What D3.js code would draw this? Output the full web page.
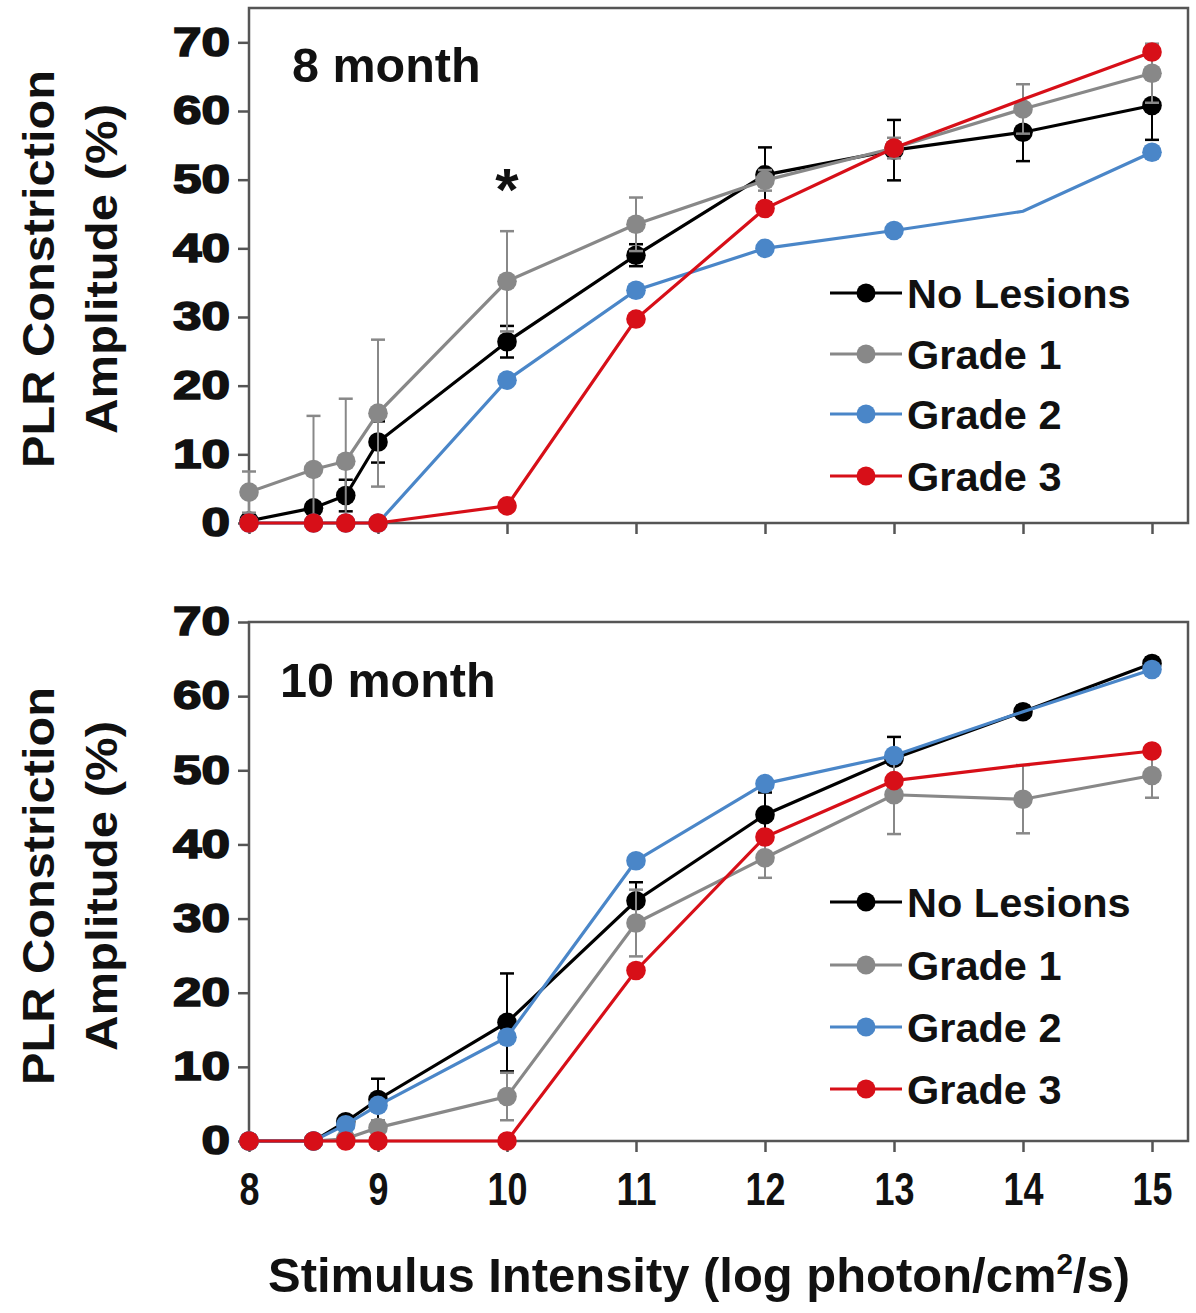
<!DOCTYPE html>
<html>
<head>
<meta charset="utf-8">
<script src="https://cdn.jsdelivr.net/npm/d3@7"></script>
<style>
  body { margin: 0; background: #fff; }
  .narrow { font-family: "Liberation Sans Narrow", "Arial Narrow", "Liberation Sans", sans-serif; font-stretch: condensed; font-weight: bold; }
  .bold { font-family: "Liberation Sans", Arial, sans-serif; font-weight: bold; }
</style>
</head>
<body>
<svg id="chart" width="1196" height="1313"></svg>
<script>
// x values (log photon/cm2/s)
const intensity = [8, 8.5, 8.75, 9, 10, 11, 12, 13, 14, 15];
const xTicks = [8, 9, 10, 11, 12, 13, 14, 15];
const yTicks = [0, 10, 20, 30, 40, 50, 60, 70];
const seriesNames = ["No Lesions", "Grade 1", "Grade 2", "Grade 3"];
const seriesColors = ["#000000", "#888888", "#4a86c8", "#d70f18"];
// points drawn on the line but without a marker
const unmarked = { "Grade 2": [14], "Grade 3": [14] };

// 8 month
const noLesions8 = [0.3, 2.2, 4.0, 11.8, 26.4, 39.0, 50.7, 54.3, 56.9, 60.8];
const noLesions8Err = [0.5, 0.8, 2.3, 3.0, 2.3, 1.6, 4.0, 4.4, 4.2, 5.0];
const grade1_8 = [4.5, 7.8, 9.0, 16.0, 35.2, 43.5, 49.9, 54.6, 60.3, 65.5];
const grade1_8Err = [3.0, 7.8, 9.1, 10.7, 7.3, 3.9, 1.5, 1.5, 3.6, 4.3];
const grade2_8 = [0, 0, 0, 0, 20.8, 33.9, 40.0, 42.6, 45.4, 54.0];
const grade3_8 = [0, 0, 0, 0, 2.5, 29.7, 45.8, 54.6, 61.7, 68.6];

// 10 month
const noLesions10 = [0, 0, 2.6, 5.6, 16.0, 32.4, 44.0, 51.6, 57.9, 64.4];
const noLesions10Err = [0, 0, 0.6, 2.8, 6.6, 2.5, 3.0, 2.9, 0.8, 0.8];
const grade1_10 = [0, 0, 0.3, 1.8, 6.0, 29.4, 38.2, 46.7, 46.1, 49.3];
const grade1_10Err = [0, 0, 0.5, 1.0, 3.2, 4.5, 2.7, 5.3, 4.6, 3.0];
const grade2_10 = [0, 0, 2.2, 4.8, 14.0, 37.8, 48.2, 52.0, 57.9, 63.6];
const grade3_10 = [0, 0, 0, 0, 0, 23.0, 41.0, 48.6, 50.7, 52.6];

const panels = [
  { label: "8 month", top: 8, bottom: 523, yMax: 75, showXLabels: false,
    values: [noLesions8, grade1_8, grade2_8, grade3_8],
    errors: [noLesions8Err, grade1_8Err, null, null],
    star: { x: 10, y: 50 },
    labelPos: [292, 82], legendY: [293, 354, 414, 476], titleY: 269 },
  { label: "10 month", top: 622, bottom: 1141, yMax: 70, showXLabels: true,
    values: [noLesions10, grade1_10, grade2_10, grade3_10],
    errors: [noLesions10Err, grade1_10Err, null, null],
    star: null,
    labelPos: [280, 697], legendY: [902, 965, 1027, 1089], titleY: 886 }
];

const svg = d3.select("#chart");
const left = 249, right = 1188;
const x = d3.scaleLinear().domain([8, 15]).range([249, 1152]);

panels.forEach(p => {
  const y = d3.scaleLinear().domain([0, p.yMax]).range([p.bottom, p.top]);
  const g = svg.append("g");

  // frame
  g.append("rect")
    .attr("x", left).attr("y", p.top)
    .attr("width", right - left).attr("height", p.bottom - p.top)
    .attr("fill", "none").attr("stroke", "#555").attr("stroke-width", 2.5);

  // y axis
  const yAxis = g.append("g")
    .attr("transform", `translate(${left},0)`)
    .call(d3.axisLeft(y).tickValues(yTicks).tickSize(11).tickPadding(8));
  yAxis.select(".domain").remove();
  yAxis.selectAll(".tick line").attr("stroke", "#555").attr("stroke-width", 2.5);
  yAxis.selectAll(".tick text")
    .attr("class", "bold").attr("font-size", 40).attr("fill", "#111")
    .attr("stroke", "#111").attr("stroke-width", 1.6)
    .attr("textLength", d => String(d).length * 28.5)
    .attr("lengthAdjust", "spacingAndGlyphs");

  // x axis
  const xAxis = g.append("g")
    .attr("transform", `translate(0,${p.bottom})`)
    .call(d3.axisBottom(x).tickValues(xTicks).tickSize(11).tickPadding(20)
      .tickFormat(p.showXLabels ? d3.format("d") : () => ""));
  xAxis.select(".domain").remove();
  xAxis.selectAll(".tick line").attr("stroke", "#555").attr("stroke-width", 2.5);
  if (p.showXLabels) {
    xAxis.selectAll(".tick text")
      .attr("class", "narrow").attr("font-size", 47).attr("fill", "#111")
      .attr("textLength", d => String(d).length * 20)
      .attr("lengthAdjust", "spacingAndGlyphs");
  }

  // y title
  const t = g.append("g").attr("transform", `translate(0,${p.titleY}) rotate(-90)`);
  t.append("text").attr("class", "narrow").attr("x", 0).attr("y", 54)
    .attr("text-anchor", "middle").attr("font-size", 45).attr("fill", "#111")
    .attr("textLength", 398).attr("lengthAdjust", "spacingAndGlyphs")
    .text("PLR Constriction");
  t.append("text").attr("class", "narrow").attr("x", 0).attr("y", 117)
    .attr("text-anchor", "middle").attr("font-size", 45).attr("fill", "#111")
    .attr("textLength", 330).attr("lengthAdjust", "spacingAndGlyphs")
    .text("Amplitude (%)");

  // panel label
  g.append("text").attr("class", "bold")
    .attr("x", p.labelPos[0]).attr("y", p.labelPos[1])
    .attr("font-size", 48.5).attr("fill", "#111").text(p.label);

  if (p.star) {
    g.append("text").attr("class", "bold")
      .attr("x", x(p.star.x)).attr("y", y(p.star.y) + 30)
      .attr("text-anchor", "middle").attr("font-size", 60).attr("fill", "#111")
      .text("*");
  }

  const line = d3.line().x(d => x(d.x)).y(d => y(d.v));

  p.values.forEach((vals, si) => {
    const name = seriesNames[si];
    const color = seriesColors[si];
    const pts = intensity.map((xv, i) => ({ x: xv, v: vals[i], e: p.errors[si] ? p.errors[si][i] : 0 }));
    const sg = g.append("g");

    // error bars
    if (p.errors[si]) {
      const eb = sg.selectAll(".err").data(pts.filter(d => d.e > 0)).join("g");
      eb.append("line")
        .attr("x1", d => x(d.x)).attr("x2", d => x(d.x))
        .attr("y1", d => y(Math.max(0, d.v - d.e))).attr("y2", d => y(d.v + d.e))
        .attr("stroke", color).attr("stroke-width", 2);
      [1, -1].forEach(s => {
        eb.filter(d => s > 0 || d.v - d.e > 0.2).append("line")
          .attr("x1", d => x(d.x) - 7).attr("x2", d => x(d.x) + 7)
          .attr("y1", d => y(d.v + s * d.e)).attr("y2", d => y(d.v + s * d.e))
          .attr("stroke", color).attr("stroke-width", 2.5);
      });
    }

    sg.append("path").datum(pts)
      .attr("d", line).attr("fill", "none")
      .attr("stroke", color).attr("stroke-width", 3.2);

    const skip = unmarked[name] || [];
    sg.selectAll("circle").data(pts.filter(d => !skip.includes(d.x))).join("circle")
      .attr("cx", d => x(d.x)).attr("cy", d => y(d.v)).attr("r", 9.8)
      .attr("fill", color);
  });

  // legend
  const lg = g.append("g");
  seriesNames.forEach((name, i) => {
    const ly = p.legendY[i];
    lg.append("line").attr("x1", 830).attr("x2", 902).attr("y1", ly).attr("y2", ly)
      .attr("stroke", seriesColors[i]).attr("stroke-width", 3.2);
    lg.append("circle").attr("cx", 866).attr("cy", ly).attr("r", 9.5).attr("fill", seriesColors[i]);
    lg.append("text").attr("class", "bold").attr("x", 907).attr("y", ly).attr("dy", "0.36em")
      .attr("font-size", 41.5).attr("fill", "#111").text(name);
  });
});

// x title
const xt = svg.append("text").attr("class", "narrow")
  .attr("x", 268).attr("y", 1292).attr("font-size", 48).attr("fill", "#111")
  .attr("textLength", 862).attr("lengthAdjust", "spacingAndGlyphs");
xt.append("tspan").text("Stimulus Intensity (log photon/cm");
xt.append("tspan").attr("font-size", 29).attr("dy", -18).text("2");
xt.append("tspan").attr("dy", 18).text("/s)");
</script>
</body>
</html>
